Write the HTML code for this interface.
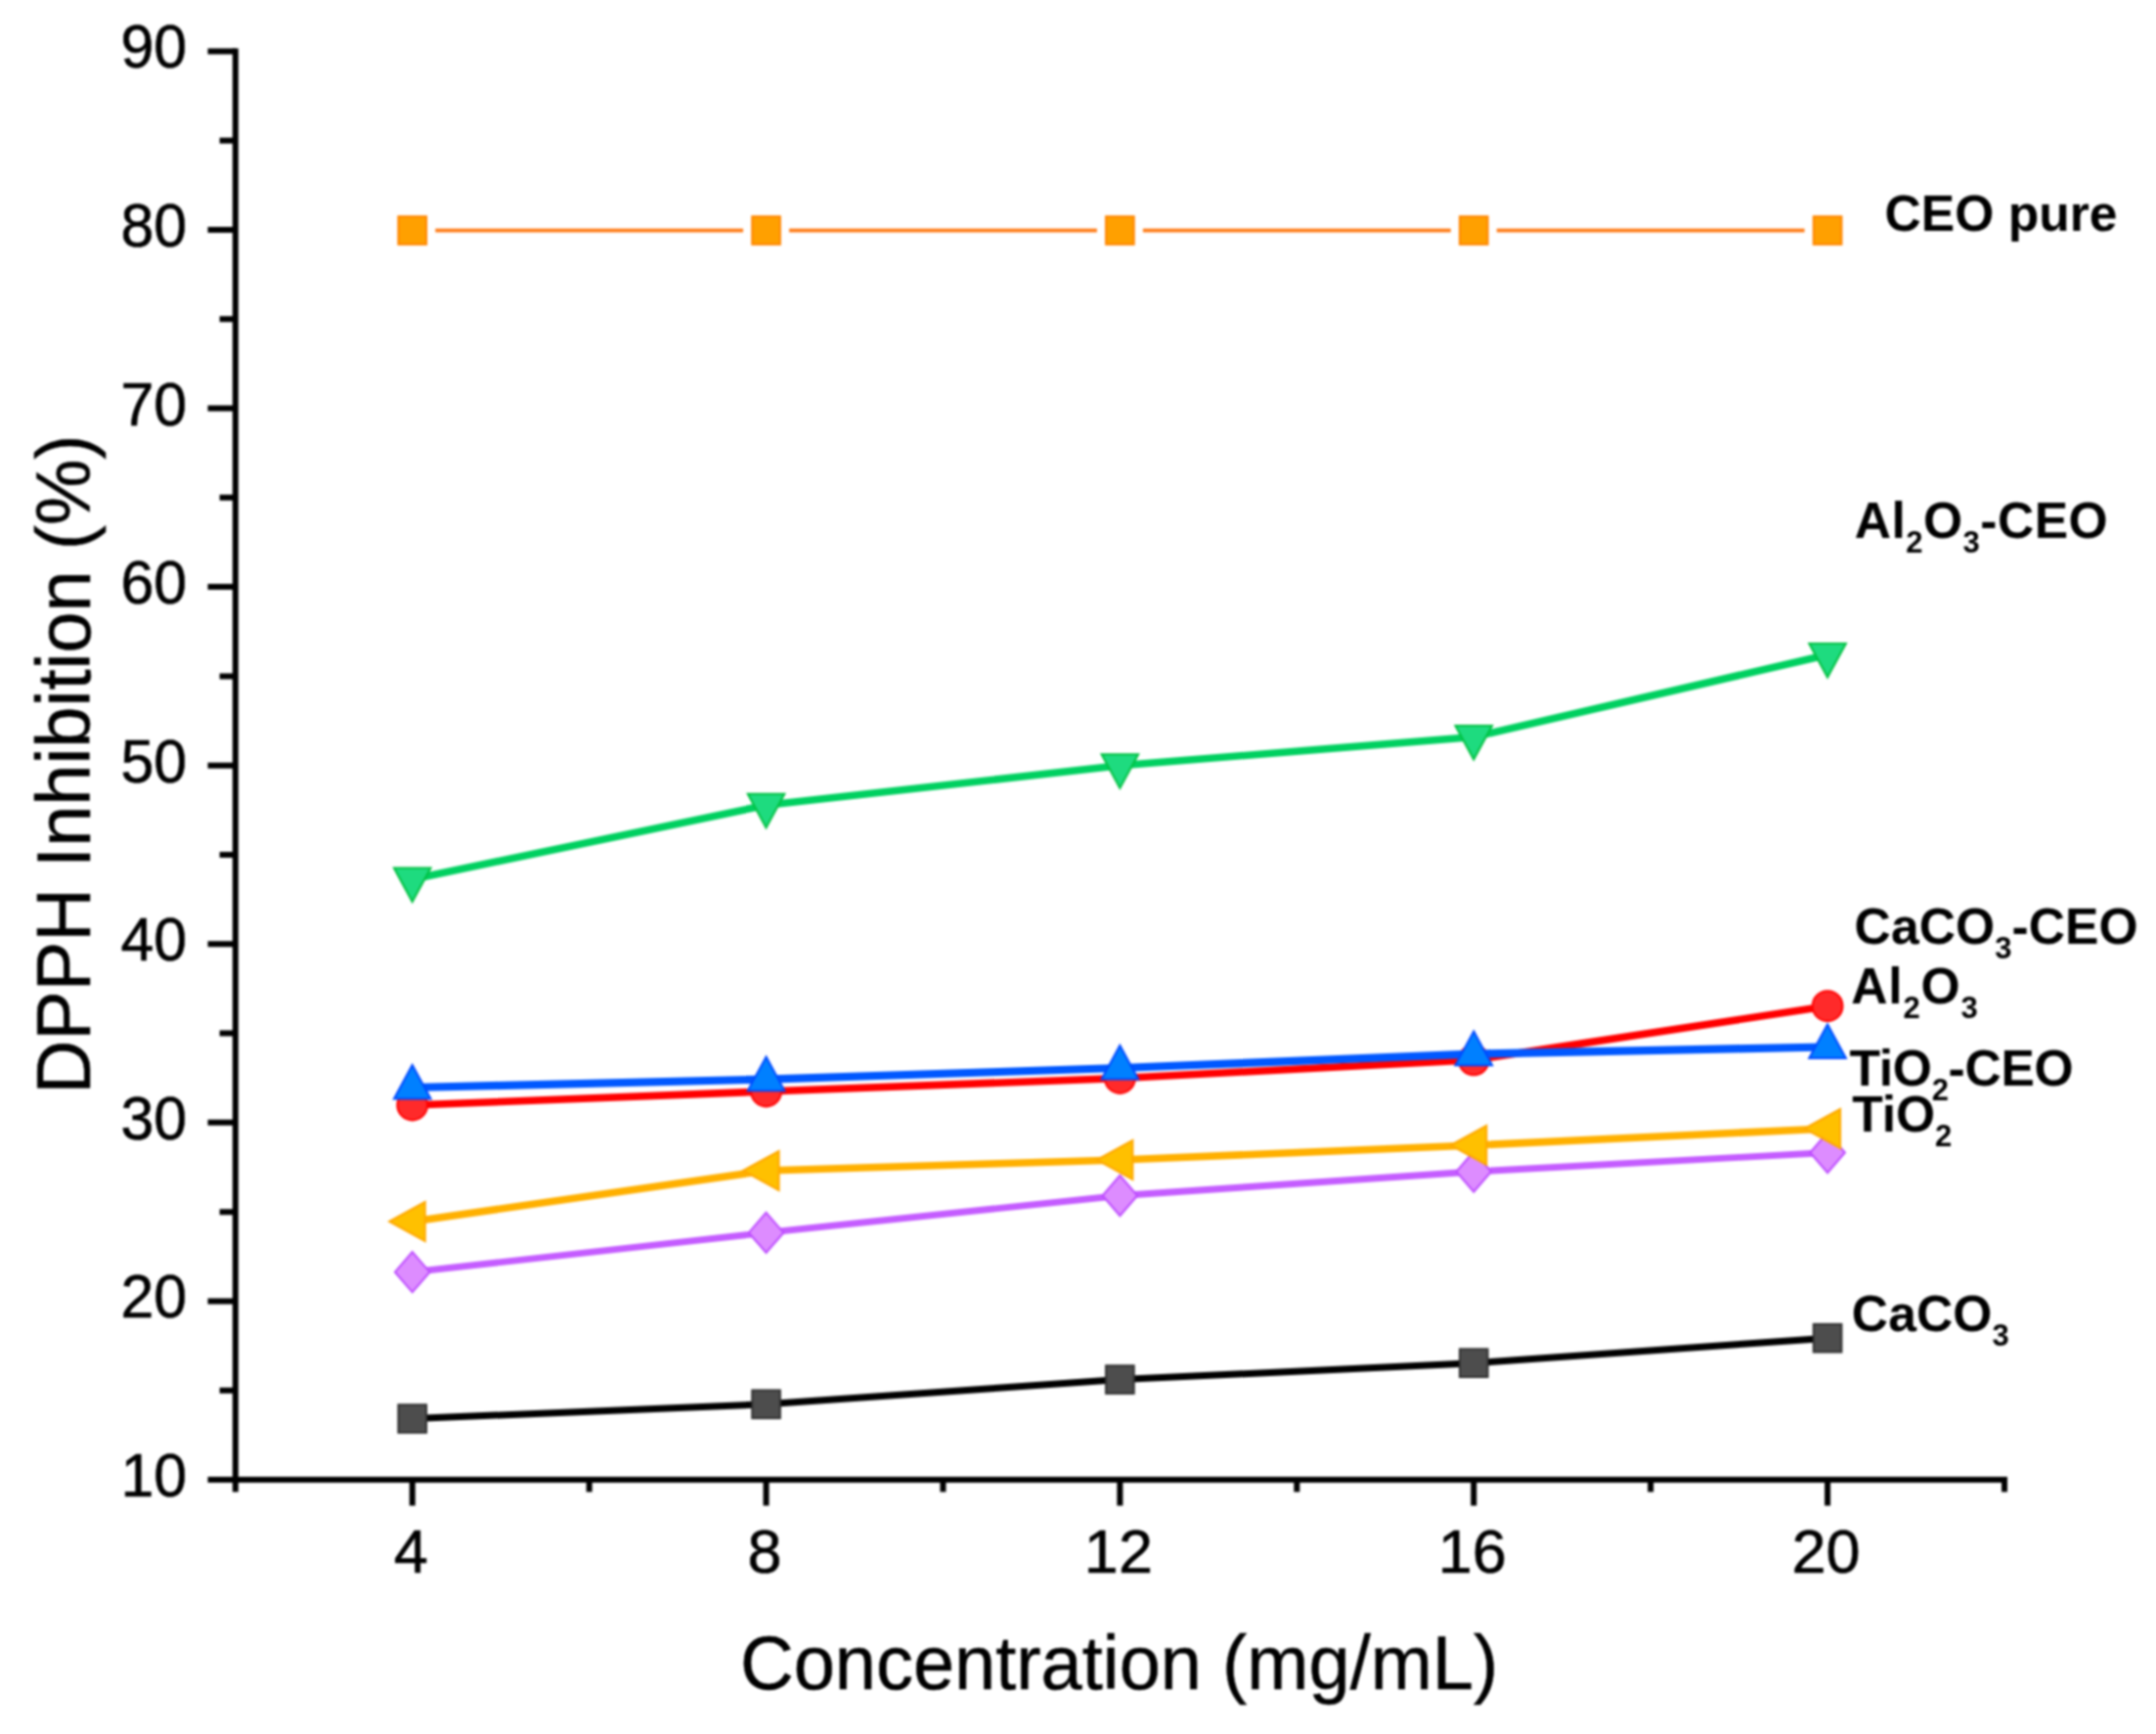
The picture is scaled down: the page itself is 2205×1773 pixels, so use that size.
<!DOCTYPE html>
<html lang="en"><head><meta charset="utf-8"><title>DPPH Inhibition vs Concentration</title>
<style>html,body{margin:0;padding:0;background:#fff}body{width:2205px;height:1773px;overflow:hidden}svg{display:block;filter:blur(0.9px)}text{font-family:"Liberation Sans",sans-serif;fill:#000}.tk{font-size:63px;stroke:#000;stroke-width:.6px}.ttl{font-size:77.3px;stroke:#000;stroke-width:.5px}.lb{font-size:51.6px;font-weight:bold}.sub{font-size:31px}</style></head><body>
<svg width="2205" height="1773" viewBox="0 0 2205 1773">
<rect width="2205" height="1773" fill="#fff"/>
<g id="plot">
<g stroke="#000" stroke-width="6" fill="none" stroke-linecap="butt">
<path d="M240.8 49.4 V1525.5"/>
<path d="M212.5 1513 H2053"/>
<path d="M224.6 1421.71 H240.8 M212.5 1330.42 H240.8 M224.6 1239.14 H240.8 M212.5 1147.85 H240.8 M224.6 1056.56 H240.8 M212.5 965.27 H240.8 M224.6 873.99 H240.8 M212.5 782.7 H240.8 M224.6 691.41 H240.8 M212.5 600.12 H240.8 M224.6 508.84 H240.8 M212.5 417.55 H240.8 M224.6 326.26 H240.8 M212.5 234.97 H240.8 M224.6 143.69 H240.8 M212.5 52.4 H240.8"/>
<path d="M421.72 1513 V1539.5 M602.64 1513 V1525.5 M783.56 1513 V1539.5 M964.48 1513 V1525.5 M1145.4 1513 V1539.5 M1326.32 1513 V1525.5 M1507.24 1513 V1539.5 M1688.16 1513 V1525.5 M1869.08 1513 V1539.5 M2050 1513 V1525.5"/>
</g>
<g id="s-gray">
<path d="M421.72 1450.6 L783.56 1435.8 L1145.4 1410.6 L1507.24 1393.7 L1869.08 1368.2" fill="none" stroke="#000000" stroke-width="7.0" stroke-linejoin="round"/>
<rect x="407.42" y="1436.3" width="28.6" height="28.6" fill="#4d4d4d" stroke="#303030" stroke-width="2" stroke-linejoin="miter"/>
<rect x="769.26" y="1421.5" width="28.6" height="28.6" fill="#4d4d4d" stroke="#303030" stroke-width="2" stroke-linejoin="miter"/>
<rect x="1131.1" y="1396.3" width="28.6" height="28.6" fill="#4d4d4d" stroke="#303030" stroke-width="2" stroke-linejoin="miter"/>
<rect x="1492.94" y="1379.4" width="28.6" height="28.6" fill="#4d4d4d" stroke="#303030" stroke-width="2" stroke-linejoin="miter"/>
<rect x="1854.78" y="1353.9" width="28.6" height="28.6" fill="#4d4d4d" stroke="#303030" stroke-width="2" stroke-linejoin="miter"/>
</g>
<g id="s-red">
<path d="M421.72 1130 L783.56 1116 L1145.4 1102.5 L1507.24 1083.8 L1869.08 1028.7" fill="none" stroke="#ff0000" stroke-width="7.6" stroke-linejoin="round"/>
<circle cx="421.72" cy="1130" r="15.4" fill="#ff2a2a" stroke="#ff0000" stroke-width="2" stroke-linejoin="miter"/>
<circle cx="783.56" cy="1116" r="15.4" fill="#ff2a2a" stroke="#ff0000" stroke-width="2" stroke-linejoin="miter"/>
<circle cx="1145.4" cy="1102.5" r="15.4" fill="#ff2a2a" stroke="#ff0000" stroke-width="2" stroke-linejoin="miter"/>
<circle cx="1507.24" cy="1083.8" r="15.4" fill="#ff2a2a" stroke="#ff0000" stroke-width="2" stroke-linejoin="miter"/>
<circle cx="1869.08" cy="1028.7" r="15.4" fill="#ff2a2a" stroke="#ff0000" stroke-width="2" stroke-linejoin="miter"/>
</g>
<g id="s-blue">
<path d="M421.72 1112 L783.56 1103.6 L1145.4 1092 L1507.24 1077.6 L1869.08 1070.5" fill="none" stroke="#0058ff" stroke-width="8.2" stroke-linejoin="round"/>
<polygon points="421.72,1088.93 440.52,1123.53 402.92,1123.53" fill="#0080ff" stroke="#0048ff" stroke-width="2" stroke-linejoin="miter"/>
<polygon points="783.56,1080.53 802.36,1115.13 764.76,1115.13" fill="#0080ff" stroke="#0048ff" stroke-width="2" stroke-linejoin="miter"/>
<polygon points="1145.4,1068.93 1164.2,1103.53 1126.6,1103.53" fill="#0080ff" stroke="#0048ff" stroke-width="2" stroke-linejoin="miter"/>
<polygon points="1507.24,1054.53 1526.04,1089.13 1488.44,1089.13" fill="#0080ff" stroke="#0048ff" stroke-width="2" stroke-linejoin="miter"/>
<polygon points="1869.08,1047.43 1887.88,1082.03 1850.28,1082.03" fill="#0080ff" stroke="#0048ff" stroke-width="2" stroke-linejoin="miter"/>
</g>
<g id="s-green">
<path d="M421.72 899 L783.56 823.3 L1145.4 782.8 L1507.24 753.5 L1869.08 669.5" fill="none" stroke="#00d060" stroke-width="7.6" stroke-linejoin="round"/>
<polygon points="421.72,922.07 440.52,887.47 402.92,887.47" fill="#1edb7f" stroke="#00c040" stroke-width="2" stroke-linejoin="miter"/>
<polygon points="783.56,846.37 802.36,811.77 764.76,811.77" fill="#1edb7f" stroke="#00c040" stroke-width="2" stroke-linejoin="miter"/>
<polygon points="1145.4,805.87 1164.2,771.27 1126.6,771.27" fill="#1edb7f" stroke="#00c040" stroke-width="2" stroke-linejoin="miter"/>
<polygon points="1507.24,776.57 1526.04,741.97 1488.44,741.97" fill="#1edb7f" stroke="#00c040" stroke-width="2" stroke-linejoin="miter"/>
<polygon points="1869.08,692.57 1887.88,657.97 1850.28,657.97" fill="#1edb7f" stroke="#00c040" stroke-width="2" stroke-linejoin="miter"/>
</g>
<g id="s-purple">
<path d="M421.72 1300.7 L783.56 1260.4 L1145.4 1222.5 L1507.24 1198 L1869.08 1178.5" fill="none" stroke="#c45cff" stroke-width="6.8" stroke-linejoin="round"/>
<polygon points="421.72,1280.1 439.52,1300.7 421.72,1321.3 403.92,1300.7" fill="#dd8cff" stroke="#bd4bff" stroke-width="2" stroke-linejoin="miter"/>
<polygon points="783.56,1239.8 801.36,1260.4 783.56,1281 765.76,1260.4" fill="#dd8cff" stroke="#bd4bff" stroke-width="2" stroke-linejoin="miter"/>
<polygon points="1145.4,1201.9 1163.2,1222.5 1145.4,1243.1 1127.6,1222.5" fill="#dd8cff" stroke="#bd4bff" stroke-width="2" stroke-linejoin="miter"/>
<polygon points="1507.24,1177.4 1525.04,1198 1507.24,1218.6 1489.44,1198" fill="#dd8cff" stroke="#bd4bff" stroke-width="2" stroke-linejoin="miter"/>
<polygon points="1869.08,1157.9 1886.88,1178.5 1869.08,1199.1 1851.28,1178.5" fill="#dd8cff" stroke="#bd4bff" stroke-width="2" stroke-linejoin="miter"/>
</g>
<g id="s-yellow">
<path d="M421.72 1249 L783.56 1197 L1145.4 1186 L1507.24 1171 L1869.08 1154" fill="none" stroke="#ffb000" stroke-width="7.6" stroke-linejoin="round"/>
<polygon points="398.22,1249 434.72,1229 434.72,1269" fill="#ffc000" stroke="#ffa800" stroke-width="2" stroke-linejoin="miter"/>
<polygon points="760.06,1197 796.56,1177 796.56,1217" fill="#ffc000" stroke="#ffa800" stroke-width="2" stroke-linejoin="miter"/>
<polygon points="1121.9,1186 1158.4,1166 1158.4,1206" fill="#ffc000" stroke="#ffa800" stroke-width="2" stroke-linejoin="miter"/>
<polygon points="1483.74,1171 1520.24,1151 1520.24,1191" fill="#ffc000" stroke="#ffa800" stroke-width="2" stroke-linejoin="miter"/>
<polygon points="1845.58,1154 1882.08,1134 1882.08,1174" fill="#ffc000" stroke="#ffa800" stroke-width="2" stroke-linejoin="miter"/>
</g>
<g id="s-orange">
<path d="M445.22 235.6 L760.06 235.6 M807.06 235.6 L1121.9 235.6 M1168.9 235.6 L1483.74 235.6 M1530.74 235.6 L1845.58 235.6" fill="none" stroke="#ff7a14" stroke-width="3.6" stroke-linejoin="round"/>
<rect x="407.42" y="221.3" width="28.6" height="28.6" fill="#ffa000" stroke="#ff8400" stroke-width="2" stroke-linejoin="miter"/>
<rect x="769.26" y="221.3" width="28.6" height="28.6" fill="#ffa000" stroke="#ff8400" stroke-width="2" stroke-linejoin="miter"/>
<rect x="1131.1" y="221.3" width="28.6" height="28.6" fill="#ffa000" stroke="#ff8400" stroke-width="2" stroke-linejoin="miter"/>
<rect x="1492.94" y="221.3" width="28.6" height="28.6" fill="#ffa000" stroke="#ff8400" stroke-width="2" stroke-linejoin="miter"/>
<rect x="1854.78" y="221.3" width="28.6" height="28.6" fill="#ffa000" stroke="#ff8400" stroke-width="2" stroke-linejoin="miter"/>
</g>
</g>
<g class="tk" text-anchor="end">
<text transform="translate(191 1530) scale(0.965 1)">10</text>
<text transform="translate(191 1347.42) scale(0.965 1)">20</text>
<text transform="translate(191 1164.85) scale(0.965 1)">30</text>
<text transform="translate(191 982.27) scale(0.965 1)">40</text>
<text transform="translate(191 799.7) scale(0.965 1)">50</text>
<text transform="translate(191 617.12) scale(0.965 1)">60</text>
<text transform="translate(191 434.55) scale(0.965 1)">70</text>
<text transform="translate(191 251.97) scale(0.965 1)">80</text>
<text transform="translate(191 69.4) scale(0.965 1)">90</text>
</g>
<g class="tk" text-anchor="middle">
<text x="420.22" y="1608">4</text>
<text x="782.06" y="1608">8</text>
<text x="1143.9" y="1608">12</text>
<text x="1505.74" y="1608">16</text>
<text x="1867.58" y="1608">20</text>
</g>
<text class="ttl" text-anchor="middle" transform="translate(1144.6 1726.6) scale(0.981 1.01)">Concentration (mg/mL)</text>
<text class="ttl" text-anchor="middle" transform="translate(91.8 781.5) rotate(-90) scale(0.981 1.01)">DPPH Inhibition (%)</text>
<g class="lb">
<text x="1927.5" y="236" letter-spacing="0">CEO pure</text>
<text x="1896.8" y="550" letter-spacing="0.45">Al<tspan class="sub" dy="15.2">2</tspan><tspan dy="-15.2">O</tspan><tspan class="sub" dy="15.2">3</tspan><tspan dy="-15.2">-CEO</tspan></text>
<text x="1896.6" y="965" letter-spacing="0.05">CaCO<tspan class="sub" dy="15.2">3</tspan><tspan dy="-15.2">-CEO</tspan></text>
<text x="1893.2" y="1026" letter-spacing="0.85">Al<tspan class="sub" dy="15.2">2</tspan><tspan dy="-15.2">O</tspan><tspan class="sub" dy="15.2">3</tspan></text>
<text x="1891.5" y="1110" letter-spacing="-0.3">TiO<tspan class="sub" dy="15.2">2</tspan><tspan dy="-15.2">-CEO</tspan></text>
<text x="1894.3" y="1157" letter-spacing="-0.1">TiO<tspan class="sub" dy="15.2">2</tspan></text>
<text x="1893.8" y="1361" letter-spacing="0.1">CaCO<tspan class="sub" dy="15.2">3</tspan></text>
</g>
</svg></body></html>
